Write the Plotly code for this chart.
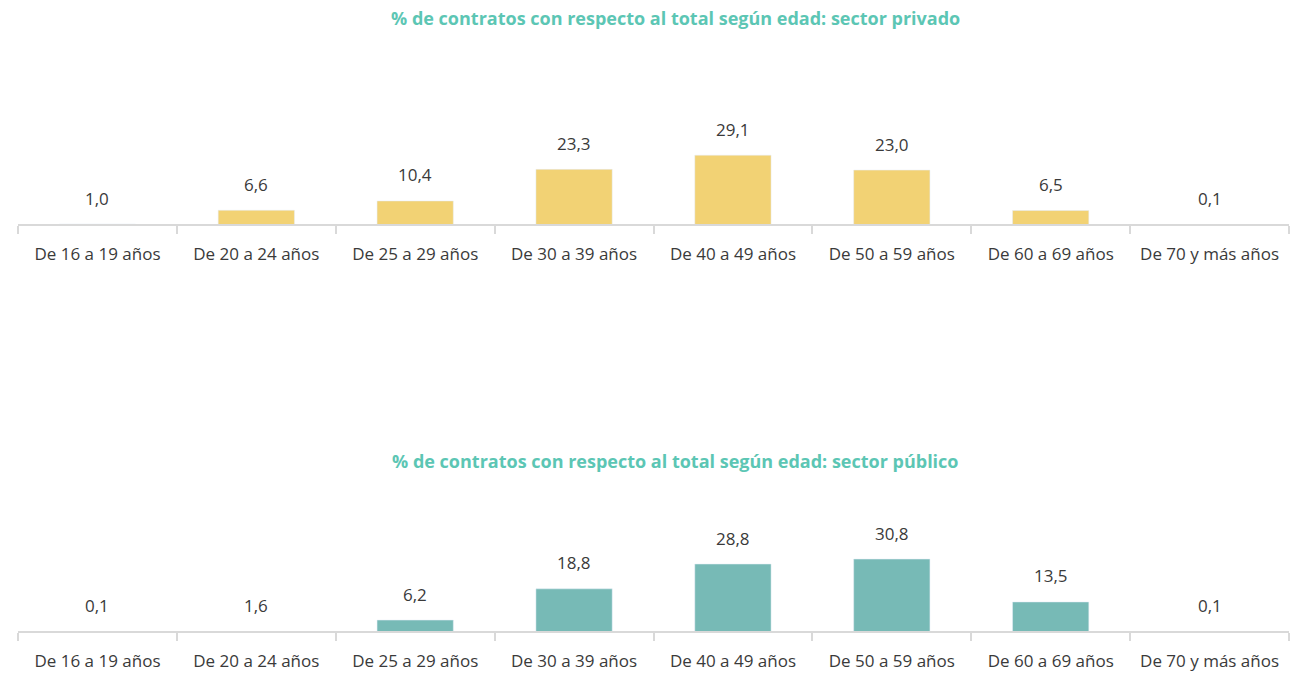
import plotly.graph_objects as go

categories = ["De 16 a 19 años", "De 20 a 24 años", "De 25 a 29 años", "De 30 a 39 años",
              "De 40 a 49 años", "De 50 a 59 años", "De 60 a 69 años", "De 70 y más años"]
privado = [1.0, 6.6, 10.4, 23.3, 29.1, 23.0, 6.5, 0.1]
publico = [0.1, 1.6, 6.2, 18.8, 28.8, 30.8, 13.5, 0.1]
title_priv = "% de contratos con respecto al total según edad: sector privado"
title_pub = "% de contratos con respecto al total según edad: sector público"

W, H = 1300, 673
YELLOW = "#F2D274"
TEAL = "#77BAB6"
TITLE_C = "#5CC6B4"
TEXT_C = "#3a3a3a"
AXIS_C = "#d9d9d9"
FONT = "Open Sans"

def fmt(v):
    return f"{v:.1f}".replace(".", ",")

fig = go.Figure()
fig.add_trace(go.Bar(x=categories, y=privado, marker_color=YELLOW, width=0.48,
                     xaxis="x", yaxis="y", hoverinfo="skip"))
fig.add_trace(go.Bar(x=categories, y=publico, marker_color=TEAL, width=0.48,
                     xaxis="x2", yaxis="y2", hoverinfo="skip"))

base1, base2 = 1.0, 1.8
r1 = [base1, base1 + 184 / 2.45]
r2 = [base2, base2 + 151 / 2.48]

def px_to_paper(y):
    return (H - y) / H

axis_common = dict(
    type="category", showline=True, linecolor=AXIS_C, linewidth=2,
    ticks="outside", ticklen=8, tickcolor=AXIS_C, tickwidth=2,
    tickson="boundaries", showgrid=False, zeroline=False,
    tickfont=dict(family=FONT, size=17, color=TEXT_C), ticklabelstandoff=14,
    fixedrange=True,
)
fig.update_layout(
    width=W, height=H,
    margin=dict(l=18, r=11, t=0, b=0),
    paper_bgcolor="white", plot_bgcolor="white",
    showlegend=False,
    bargap=0.52,
    xaxis=dict(**axis_common, anchor="y", domain=[0, 1]),
    xaxis2=dict(**axis_common, anchor="y2", domain=[0, 1]),
    yaxis=dict(range=r1, visible=False, domain=[px_to_paper(224), px_to_paper(40)], fixedrange=True),
    yaxis2=dict(range=r2, visible=False, domain=[px_to_paper(631), px_to_paper(480)], fixedrange=True),
)

anns = []
for c, v in zip(categories, privado):
    anns.append(dict(x=c, y=max(v, base1), xref="x", yref="y", text=fmt(v), showarrow=False,
                     yanchor="middle", yshift=26, font=dict(family=FONT, size=17, color=TEXT_C)))
for c, v in zip(categories, publico):
    anns.append(dict(x=c, y=max(v, base2), xref="x2", yref="y2", text=fmt(v), showarrow=False,
                     yanchor="middle", yshift=26, font=dict(family=FONT, size=17, color=TEXT_C)))
for t, ypx in [(title_priv, 18), (title_pub, 461)]:
    anns.append(dict(x=673 / W, y=px_to_paper(ypx), xref="paper", yref="paper", text="<b>" + t + "</b>",
                     showarrow=False, xanchor="center", yanchor="middle",
                     font=dict(family=FONT, size=18, color=TITLE_C)))
fig.update_layout(annotations=anns)

fig.write_html("out.html", config={"displayModeBar": False},
               post_script="document.body.style.margin='0';")
